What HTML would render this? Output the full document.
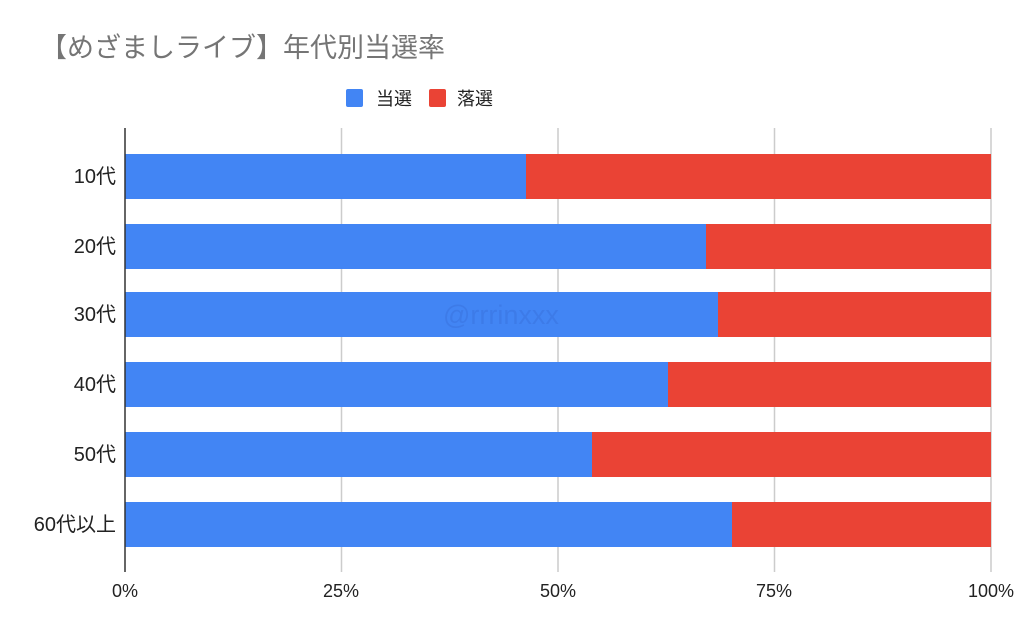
<!DOCTYPE html>
<html><head><meta charset="utf-8"><style>
html,body{margin:0;padding:0;background:#fff;}
svg text{font-family:"Liberation Sans","Noto Sans CJK JP",sans-serif;}
</style></head><body>
<svg width="1024" height="633" xmlns="http://www.w3.org/2000/svg">
<rect width="1024" height="633" fill="#fff"/>
<text x="40" y="57" font-size="27" fill="#757575">【めざましライブ】年代別当選率</text>
<rect x="346" y="89" width="17" height="18" rx="2" fill="#4285f4"/>
<text x="376" y="105" font-size="18" fill="#222">当選</text>
<rect x="429" y="89" width="17" height="18" rx="2" fill="#ea4335"/>
<text x="457" y="105" font-size="18" fill="#222">落選</text>
<g stroke="#cccccc" stroke-width="1.5">
<line x1="341.5" y1="128" x2="341.5" y2="572"/>
<line x1="558" y1="128" x2="558" y2="572"/>
<line x1="774.5" y1="128" x2="774.5" y2="572"/>
<line x1="991" y1="128" x2="991" y2="572"/>
</g>
<g>
<rect x="125" y="154" width="401" height="45" fill="#4285f4"/><rect x="526" y="154" width="465" height="45" fill="#ea4335"/>
<rect x="125" y="224" width="581" height="45" fill="#4285f4"/><rect x="706" y="224" width="285" height="45" fill="#ea4335"/>
<rect x="125" y="292" width="593" height="45" fill="#4285f4"/><rect x="718" y="292" width="273" height="45" fill="#ea4335"/>
<rect x="125" y="362" width="543" height="45" fill="#4285f4"/><rect x="668" y="362" width="323" height="45" fill="#ea4335"/>
<rect x="125" y="432" width="467" height="45" fill="#4285f4"/><rect x="592" y="432" width="399" height="45" fill="#ea4335"/>
<rect x="125" y="502" width="607" height="45" fill="#4285f4"/><rect x="732" y="502" width="259" height="45" fill="#ea4335"/>
</g>
<line x1="125" y1="128" x2="125" y2="572" stroke="#333" stroke-width="1.5"/>
<text x="443" y="324" font-size="27" fill="#3a73e0" opacity="0.55">@rrrinxxx</text>
<g font-size="20" fill="#222" text-anchor="end">
<text x="116" y="183">10代</text>
<text x="116" y="253">20代</text>
<text x="116" y="321">30代</text>
<text x="116" y="391">40代</text>
<text x="116" y="461">50代</text>
<text x="116" y="531">60代以上</text>
</g>
<g font-size="18" fill="#222" text-anchor="middle">
<text x="125" y="597">0%</text>
<text x="341" y="597">25%</text>
<text x="558" y="597">50%</text>
<text x="774" y="597">75%</text>
<text x="991" y="597">100%</text>
</g>
</svg>
</body></html>
